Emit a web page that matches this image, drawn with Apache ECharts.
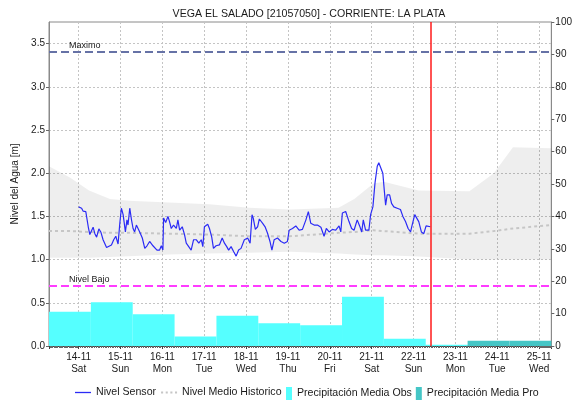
<!DOCTYPE html>
<html>
<head>
<meta charset="utf-8">
<script src="https://cdn.jsdelivr.net/npm/echarts@6/dist/echarts.min.js"></script>
<style>
  html, body { margin: 0; padding: 0; background: #fff; }
  #chart { width: 575px; height: 402px; }
</style>
</head>
<body>
<div id="chart"></div>
<script>
// Station hydrograph: sensor level, historical band/mean, daily rainfall
const stationTitle = 'VEGA EL SALADO [21057050] - CORRIENTE: LA PLATA';

// Day ticks (midnight of each day, from 14-11-2020)
const tickDates = ['14-11', '15-11', '16-11', '17-11', '18-11', '19-11', '20-11', '21-11', '22-11', '23-11', '24-11', '25-11'];
const tickDays  = ['Sat', 'Sun', 'Mon', 'Tue', 'Wed', 'Thu', 'Fri', 'Sat', 'Sun', 'Mon', 'Tue', 'Wed'];

// Sensor readings: hours after 14-11-2020 00:00 and level [m]
const sensorHours = [
  0, 1.7, 2.6, 4.1, 5.5, 6.4, 8.3, 9.3, 10.3, 11.6, 12.7, 14.0, 16.0, 16.9, 18.8, 20.1, 21.3, 22.6, 23.6, 24.5,
  25.5, 26.8, 27.7, 28.3, 29.3, 30.3, 31.2, 32.1, 33.1, 35.0, 36.5, 37.9, 39.2, 40.7, 42.6, 44.9, 46.4, 47.4, 48.3, 48.7,
  49.9, 51.2, 52.1, 53.1, 54.4, 56.0, 56.9, 57.9, 59.4, 60.7, 61.7, 64.5, 65.9, 67.4, 68.9, 70.3, 71.2, 72.1, 74.0, 75.0,
  76.3, 77.3, 78.8, 80.7, 82.3, 83.6, 84.9, 86.0, 87.4, 88.9, 90.3, 91.7, 93.1, 95.0, 96.9, 98.3, 99.4, 100.1, 101.3, 102.6,
  103.6, 105.5, 107.0, 108.3, 109.7, 110.8, 112.1, 114.0, 116.0, 117.9, 119.7, 120.7, 122.6, 123.6, 124.5, 126.4, 128.3, 130.3, 131.7, 133.1,
  135.0, 136.9, 138.9, 140.7, 142.0, 143.6, 145.5, 147.4, 149.3, 150.3, 151.2, 153.1, 155.0, 156.5, 157.9, 159.7, 161.1, 162.3, 163.2, 164.5,
  165.5, 166.4, 167.4, 168.7, 169.9, 171.2, 172.1, 173.1, 174.4, 175.2, 176.0, 176.9, 178.3, 179.4, 180.7, 182.6, 184.5, 185.9, 187.4, 188.9,
  190.3, 191.2, 192.7, 193.7, 195.0, 196.5, 197.9, 199.2, 200.3, 201.7
];
const sensorLevel = [
  1.61, 1.595, 1.56, 1.556, 1.38, 1.29, 1.375, 1.30, 1.26, 1.356, 1.32, 1.23, 1.14, 1.13, 1.17, 1.23, 1.27, 1.18, 1.42, 1.595,
  1.52, 1.32, 1.46, 1.40, 1.595, 1.46, 1.36, 1.32, 1.40, 1.32, 1.25, 1.13, 1.16, 1.21, 1.16, 1.11, 1.11, 1.16, 1.11, 1.48,
  1.43, 1.50, 1.44, 1.36, 1.40, 1.36, 1.46, 1.34, 1.38, 1.29, 1.19, 1.11, 1.23, 1.23, 1.19, 1.23, 1.15, 1.38, 1.41, 1.36,
  1.26, 1.13, 1.16, 1.17, 1.25, 1.19, 1.15, 1.11, 1.15, 1.09, 1.04, 1.11, 1.13, 1.23, 1.25, 1.19, 1.52, 1.48, 1.35, 1.38,
  1.47, 1.42, 1.375, 1.305, 1.21, 1.11, 1.23, 1.25, 1.21, 1.19, 1.21, 1.34, 1.36, 1.34, 1.39, 1.34, 1.35, 1.46, 1.556, 1.42,
  1.40, 1.40, 1.375, 1.27, 1.36, 1.32, 1.35, 1.34, 1.39, 1.32, 1.54, 1.556, 1.44, 1.36, 1.34, 1.46, 1.39, 1.32, 1.46, 1.34,
  1.32, 1.34, 1.52, 1.61, 1.885, 2.08, 2.12, 2.10, 2.00, 1.81, 1.63, 1.75, 1.75, 1.65, 1.61, 1.595, 1.58, 1.50, 1.44, 1.36,
  1.32, 1.40, 1.52, 1.54, 1.44, 1.32, 1.30, 1.39, 1.41, 1.38
];

// Historical statistics: hours after 14-11-2020 00:00, min / max / mean level [m]
const histHours = [-17, -5, 6, 18, 29, 52, 75, 98, 121, 149, 158, 169, 175, 195, 224, 238, 249, 271];
const histMin   = [1.02, 1.02, 1.02, 1.03, 1.04, 1.06, 1.07, 1.08, 1.09, 1.07, 1.06, 1.05, 1.05, 1.035, 1.00, 1.00, 1.00, 1.00];
const histMax   = [2.08, 1.95, 1.80, 1.70, 1.68, 1.66, 1.64, 1.60, 1.58, 1.60, 1.70, 1.88, 1.90, 1.80, 1.79, 2.00, 2.30, 2.29];
const histMean  = [1.33, 1.33, 1.32, 1.31, 1.31, 1.30, 1.29, 1.27, 1.27, 1.31, 1.32, 1.34, 1.33, 1.30, 1.30, 1.33, 1.36, 1.40];

// Daily rainfall [mm], each day runs 07:00 -> 07:00 of the next day
const obsDays = ['2020-11-13', '2020-11-14', '2020-11-15', '2020-11-16', '2020-11-17', '2020-11-18', '2020-11-19', '2020-11-20', '2020-11-21', '2020-11-22'];
const obsRain = [10.6, 13.5, 9.8, 2.9, 9.3, 7.0, 6.4, 15.2, 2.2, 0.4];
const proDays = ['2020-11-23', '2020-11-24'];
const proRain = [1.6, 1.6];

// Reference levels [m] and current time (hours after 14-11-2020 00:00)
const levelMax = 3.4;
const levelLow = 0.7;
const nowHour = 202;

const HOUR = 3600 * 1000;
const DAY = 24 * HOUR;
const base = new Date(2020, 10, 14, 0, 0, 0).getTime();
const toTime = h => base + h * HOUR;
const dayStart = s => { const p = s.split('-').map(Number); return new Date(p[0], p[1] - 1, p[2], 7, 0, 0).getTime(); };

const FONT = "'Liberation Sans', Arial, sans-serif";
const TXT = '#1a1a1a';

const sensorData = sensorHours.map((h, i) => [toTime(h), sensorLevel[i]]);
const lowData = histHours.map((h, i) => [toTime(h), histMin[i]]);
const spanData = histHours.map((h, i) => [toTime(h), +(histMax[i] - histMin[i]).toFixed(3)]);
const meanData = histHours.map((h, i) => [toTime(h), histMean[i]]);
const obsData = obsDays.map((d, i) => [dayStart(d), dayStart(d) + DAY, obsRain[i]]);
const proData = proDays.map((d, i) => [dayStart(d), dayStart(d) + DAY, proRain[i]]);

function rainRect(params, api) {
  const p0 = api.coord([api.value(0), api.value(2)]);
  const p1 = api.coord([api.value(1), 0]);
  return {
    type: 'rect',
    shape: { x: p0[0], y: p0[1], width: p1[0] - p0[0], height: p1[1] - p0[1] },
    style: api.style()
  };
}

// Legend glyphs: solid line, dotted line, narrow block
const ICON_LINE = 'path://M0,0h16v1.3h-16z';
const ICON_DOTS = 'path://M0,0h2v2h-2zM4.5,0h2v2h-2zM9,0h2v2h-2zM13.5,0h2v2h-2z';
const ICON_BLOCK = 'path://M0,0h6v13h-6z';
const legendText = { fontFamily: FONT, fontSize: 10.6, color: TXT };

const chart = echarts.init(document.getElementById('chart'), null, { renderer: 'canvas' });
chart.setOption({
  animation: false,
  textStyle: { fontFamily: FONT },
  title: {
    text: stationTitle,
    left: 304, top: 4, textAlign: 'center',
    textStyle: { fontFamily: FONT, fontSize: 10.6, fontWeight: 'normal', color: TXT }
  },
  grid: {
    left: 49, right: 22, top: 22, bottom: 56,
    show: true, borderColor: '#8a8a8a', borderWidth: 1, backgroundColor: 'transparent'
  },
  legend: [
    {
      left: 70, top: 382,
      itemWidth: 16, itemHeight: 12, itemGap: 5,
      textStyle: legendText,
      data: [
        { name: 'Nivel Sensor', icon: ICON_LINE },
        { name: 'Nivel Medio Historico', icon: ICON_DOTS }
      ]
    },
    {
      left: 281, top: 382,
      itemWidth: 6, itemHeight: 13, itemGap: 4,
      textStyle: legendText,
      data: [
        { name: 'Precipitación Media Obs', icon: ICON_BLOCK },
        { name: 'Precipitación Media Pro', icon: ICON_BLOCK }
      ]
    }
  ],
  xAxis: {
    type: 'time',
    min: toTime(-17), max: toTime(271),
    minInterval: DAY, maxInterval: DAY,
    axisLine: { show: true, lineStyle: { color: '#444', width: 1 } },
    axisTick: { show: true, length: 3, lineStyle: { color: '#444' } },
    minorTick: { show: true, splitNumber: 24, length: 2, lineStyle: { color: '#666' } },
    splitLine: { show: true, lineStyle: { color: '#c4c4c4', type: [2, 2], width: 1 } },
    axisLabel: {
      fontFamily: FONT, fontSize: 10, color: TXT, lineHeight: 12, margin: 5,
      showMinLabel: false, showMaxLabel: false, hideOverlap: false,
      formatter: v => {
        const d = new Date(v);
        if (d.getHours() !== 0 || d.getMinutes() !== 0) return '';
        const i = Math.round((v - base) / DAY);
        if (i < 0 || i >= tickDates.length) return '';
        return tickDates[i] + '\n' + tickDays[i];
      }
    }
  },
  yAxis: [
    {
      type: 'value', min: 0, max: 3.75, interval: 0.5,
      name: 'Nivel del Agua [m]', nameLocation: 'middle', nameGap: 27, nameRotate: 90,
      nameTextStyle: { fontFamily: FONT, fontSize: 10, color: TXT },
      axisLine: { show: true, lineStyle: { color: '#8a8a8a' } },
      axisTick: { show: true, length: 3, lineStyle: { color: '#666' } },
      splitLine: { show: true, lineStyle: { color: '#c4c4c4', type: [2, 2], width: 1 } },
      axisLabel: { fontFamily: FONT, fontSize: 10, color: TXT, margin: 4, showMaxLabel: false,
                   formatter: v => v.toFixed(1) }
    },
    {
      type: 'value', min: 0, max: 100, interval: 10, position: 'right',
      axisLine: { show: true, lineStyle: { color: '#8a8a8a' } },
      axisTick: { show: true, length: 3, lineStyle: { color: '#666' } },
      splitLine: { show: false },
      axisLabel: { fontFamily: FONT, fontSize: 10, color: TXT, margin: 4 }
    }
  ],
  series: [
    {
      name: 'hist-min', type: 'line', stack: 'hist', data: lowData,
      symbol: 'none', lineStyle: { opacity: 0 }, silent: true, z: 1
    },
    {
      name: 'hist-range', type: 'line', stack: 'hist', data: spanData,
      symbol: 'none', lineStyle: { opacity: 0 },
      areaStyle: { color: 'rgba(0,0,0,0.065)', opacity: 1 }, silent: true, z: 1
    },
    {
      name: 'Precipitación Media Obs', type: 'custom', yAxisIndex: 1,
      renderItem: rainRect, data: obsData, clip: true,
      encode: { x: [0, 1], y: 2 },
      itemStyle: { color: '#55ffff' }, z: 2
    },
    {
      name: 'Precipitación Media Pro', type: 'custom', yAxisIndex: 1,
      renderItem: rainRect, data: proData, clip: true,
      encode: { x: [0, 1], y: 2 },
      itemStyle: { color: '#45c6c6' }, z: 2
    },
    {
      name: 'Nivel Medio Historico', type: 'line', data: meanData,
      symbol: 'none', smooth: false,
      lineStyle: { color: '#c6c6c6', width: 2, type: [3, 3] },
      itemStyle: { color: '#c6c6c6' }, z: 3
    },
    {
      name: 'Nivel Sensor', type: 'line', data: sensorData,
      symbol: 'none',
      lineStyle: { color: '#2b2bf5', width: 1.2 },
      itemStyle: { color: '#2b2bf5' }, z: 4,
      markLine: {
        silent: true, symbol: ['none', 'none'], animation: false,
        data: [
          {
            yAxis: levelMax,
            lineStyle: { color: '#6672a6', width: 2, type: [8, 4] },
            label: { show: true, position: 'insideStartTop', distance: [20, 2], formatter: 'Maximo',
                     fontFamily: FONT, fontSize: 9, color: TXT }
          },
          {
            yAxis: levelLow,
            lineStyle: { color: '#ff3cff', width: 2, type: [8, 4] },
            label: { show: true, position: 'insideStartTop', distance: [20, 2], formatter: 'Nivel Bajo',
                     fontFamily: FONT, fontSize: 9, color: TXT }
          },
          {
            xAxis: toTime(nowHour),
            lineStyle: { color: '#ff1a1a', width: 1.5, type: 'solid' },
            label: { show: false }
          }
        ]
      }
    }
  ]
});
</script>
</body>
</html>
